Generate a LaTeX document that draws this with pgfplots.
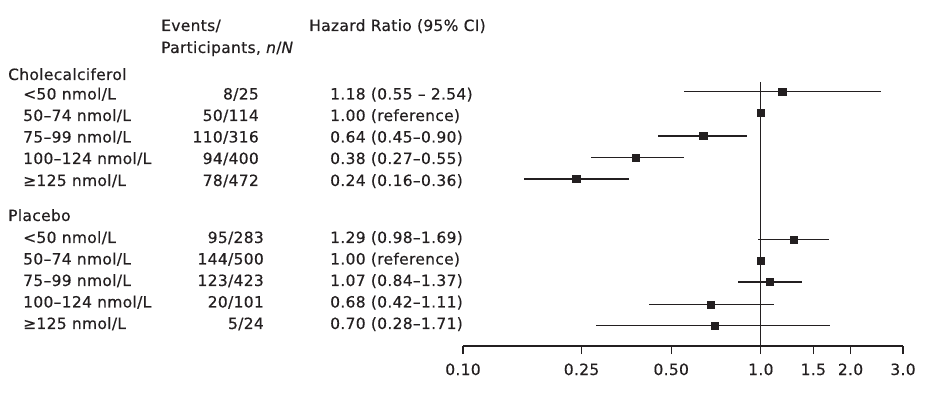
\documentclass[border=0pt]{standalone}
\usepackage{fontspec}
\setmainfont{DejaVu Sans}[LetterSpace=2, FakeBold=0.35]
\usepackage{pgfplots}
\pgfplotsset{compat=1.18}
\usepackage{pgfplotstable}
\definecolor{ink}{RGB}{35,31,32}

% pos = vertical position (pixels from top of the figure)
\pgfplotstableread{
pos   hr   lo   hi
91.5  1.18 0.55 2.54
113   1.00 1.00 1.00
136   0.64 0.45 0.90
157.5 0.38 0.27 0.55
179   0.24 0.16 0.36
}\chol
\pgfplotstableread{
pos   hr   lo   hi
239.5 1.29 0.98 1.69
260.5 1.00 1.00 1.00
282   1.07 0.84 1.37
304.5 0.68 0.42 1.11
325.5 0.70 0.28 1.71
}\plac

\newcommand{\TL}[3]{\node[anchor=base west,inner sep=0pt,text=ink] at (#1bp,{395bp-#2bp}) {#3};}
\newcommand{\TR}[3]{\node[anchor=base east,inner sep=0pt,text=ink] at (#1bp,{395bp-#2bp}) {#3};}

\begin{document}
\begin{tikzpicture}
\fontsize{15.5bp}{18bp}\selectfont
\path[use as bounding box] (0,0) rectangle (934bp,395bp);
\begin{axis}[
  at={(463bp,49bp)}, anchor=south west,
  scale only axis, width=440bp, height=264bp,
  xmode=log, xmin=0.1, xmax=3,
  ymin=-346, ymax=-82,
  axis x line*=bottom, axis y line=none,
  axis line style={ink, line width=1.1bp},
  xtick={0.1,0.25,0.5,1,1.5,2,3},
  xticklabels={0.10,0.25,0.50,1.0,1.5,2.0,3.0},
  minor xtick={},
  tick align=outside, major tick length=8bp,
  tick style={ink, line width=1.1bp},
  xticklabel style={font=\fontsize{15.5bp}{18bp}\selectfont, text=ink, anchor=base, inner sep=0pt},
  every x tick label/.append style={yshift=-21bp},
  clip=false,
]
\addplot[ink, line width=1.1bp] coordinates {(1,-82) (1,-346)};
\addplot[ink, only marks, mark=square*, mark size=3.7bp, mark options={ink, fill=ink},
  error bars/.cd, x dir=both, x explicit, error mark=none,
  error bar style={line width=1.1bp, ink}]
  table[x=hr, y expr=-\thisrow{pos},
        x error plus expr=\thisrow{hi}-\thisrow{hr},
        x error minus expr=\thisrow{hr}-\thisrow{lo}] {\chol};
\addplot[ink, only marks, mark=square*, mark size=3.7bp, mark options={ink, fill=ink},
  error bars/.cd, x dir=both, x explicit, error mark=none,
  error bar style={line width=1.1bp, ink}]
  table[x=hr, y expr=-\thisrow{pos},
        x error plus expr=\thisrow{hi}-\thisrow{hr},
        x error minus expr=\thisrow{hr}-\thisrow{lo}] {\plac};
\end{axis}

% headers
\TL{161}{31}{Events/}
\TL{161}{53}{Participants, \textit{n}/\textit{N}}
\TL{309}{31}{Hazard Ratio (95\% CI)}

\TL{8}{80}{Cholecalciferol}
\TL{23}{99.5}{<50 nmol/L}
\TL{23}{121}{50–74 nmol/L}
\TL{23}{142.5}{75–99 nmol/L}
\TL{23}{164}{100–124 nmol/L}
\TL{23}{186}{≥125 nmol/L}
\TR{259}{99.5}{8/25}
\TR{259}{121}{50/114}
\TR{259}{142.5}{110/316}
\TR{259}{164}{94/400}
\TR{259}{186}{78/472}
\TL{330}{99.5}{1.18 (0.55 – 2.54)}
\TL{330}{121}{1.00 (reference)}
\TL{330}{142.5}{0.64 (0.45–0.90)}
\TL{330}{164}{0.38 (0.27–0.55)}
\TL{330}{186}{0.24 (0.16–0.36)}

\TL{8}{221}{Placebo}
\TL{23}{243}{<50 nmol/L}
\TL{23}{264.5}{50–74 nmol/L}
\TL{23}{286}{75–99 nmol/L}
\TL{23}{307.5}{100–124 nmol/L}
\TL{23}{329}{≥125 nmol/L}
\TR{264}{243}{95/283}
\TR{264}{264.5}{144/500}
\TR{264}{286}{123/423}
\TR{264}{307.5}{20/101}
\TR{264}{329}{5/24}
\TL{330}{243}{1.29 (0.98–1.69)}
\TL{330}{264.5}{1.00 (reference)}
\TL{330}{286}{1.07 (0.84–1.37)}
\TL{330}{307.5}{0.68 (0.42–1.11)}
\TL{330}{329}{0.70 (0.28–1.71)}
\end{tikzpicture}
\end{document}
